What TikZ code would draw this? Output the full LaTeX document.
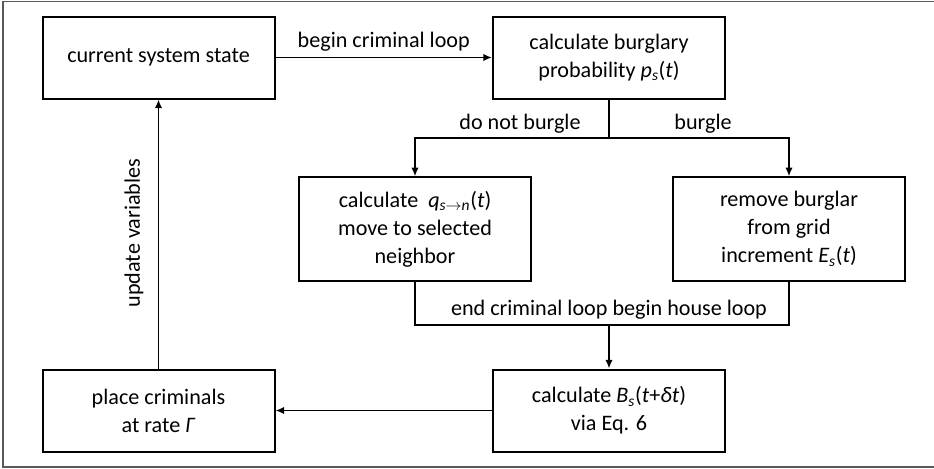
\documentclass[tikz,border=0pt]{standalone}
\usepackage{fontspec}
\setmainfont{Carlito}
\usetikzlibrary{arrows.meta}
\begin{document}
\begin{tikzpicture}[x=0.75pt,y=-0.75pt,
  every node/.style={font=\fontsize{16.6pt}{21pt}\selectfont},
  proc/.style={draw, line width=1.5pt, align=center, minimum width=174pt, inner sep=2pt},
  shortbox/.style={proc, minimum height=61.5pt},
  tallbox/.style={proc, minimum height=77.5pt},
  conn/.style={line width=1.2pt},
  arr/.style={conn, -{Latex[length=6.5pt,width=5.5pt]}},
  lbl/.style={inner sep=1pt}
]
\useasboundingbox (0,0) rectangle (934,468);
\draw[line width=1.1pt, draw=black!65] (3,1.5) rectangle (940,467);

\node[shortbox] (A) at (158.5,57.5) {current system state};
\node[shortbox] (B) at (609,57.5) {calculate burglary\\probability \textit{p}\textsubscript{\textit{s}}(\textit{t})};
\node[tallbox] (C) at (415,229) {calculate \ \textit{q}\textsubscript{\textit{s}$\rightarrow$\textit{n}}(\textit{t})\\move to selected\\neighbor};
\node[tallbox] (D) at (789,229) {remove burglar\\from grid\\increment \textit{E}\textsubscript{\textit{s}}(\textit{t})};
\node[shortbox] (E) at (609,410.5) {calculate \textit{B}\textsubscript{\textit{s}}(\textit{t}+\textit{δt})\\via Eq. 6};
\node[shortbox] (F) at (158.5,410.5) {place criminals\\at rate \textit{Γ}};

\coordinate (j1) at (609,138);
\coordinate (j2) at (609,325);

\draw[arr] (A.east) -- node[lbl, above=3pt] {begin criminal loop} (B.west);
\draw[conn] (B.south) -- (j1);
\draw[arr] (j1) -| (C.north);
\draw[arr] (j1) -| (D.north);
\node[lbl] (l1) at (520,124) {do not burgle};
\node[lbl] (l2) at (703,124) {burgle};

\draw[conn] (C.south) |- (j2) -| (D.south);
\draw[arr] (j2) -- (E.north);
\node[lbl] (l3) at (609,310) {end criminal loop begin house loop};

\draw[arr] (E.west) -- (F.east);
\draw[arr] (F.north) -- (A.south);
\node[lbl, rotate=90] (l4) at (134,233) {update variables};
\end{tikzpicture}
\end{document}
